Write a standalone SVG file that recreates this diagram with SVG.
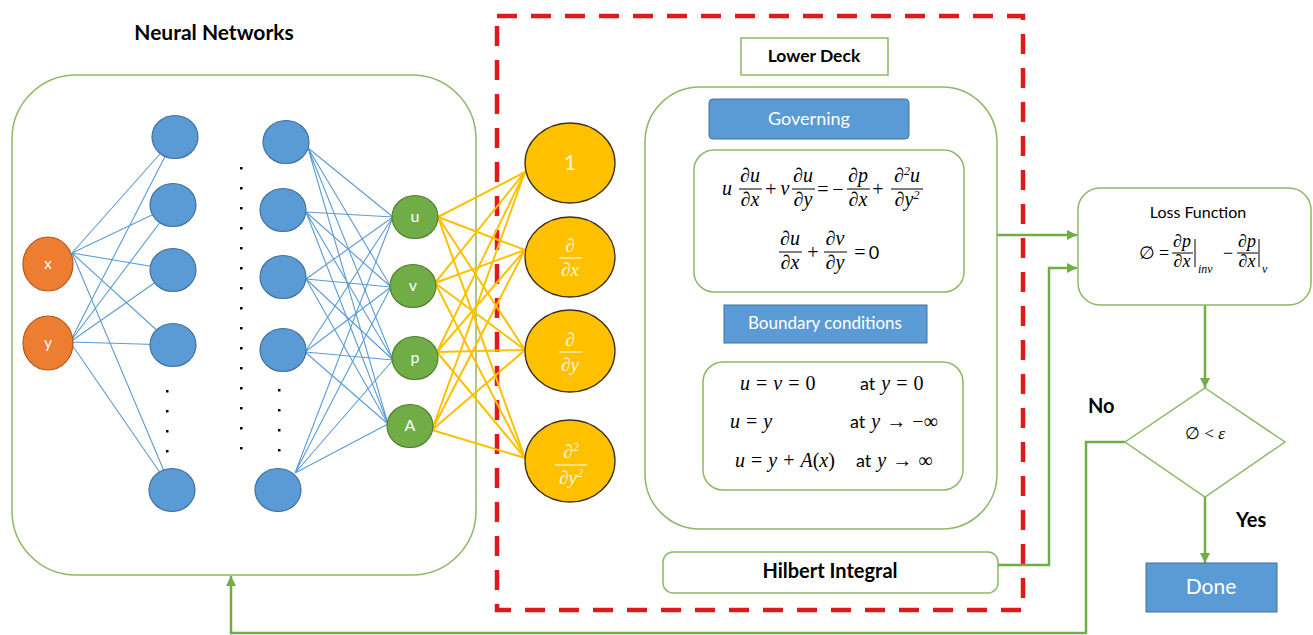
<svg xmlns="http://www.w3.org/2000/svg" width="1313" height="635" viewBox="0 0 1313 635">
<defs>
<style>
.sans{font-family:Lato,"Liberation Sans","DejaVu Sans",sans-serif}
.b{font-weight:bold}
.m{font-family:"Liberation Serif","DejaVu Serif",serif}
.i{font-style:italic}
.nn{stroke:#5B9BD5;stroke-width:1.1;fill:none}
.ye{stroke:#FFC000;stroke-width:2;fill:none}
.flow{stroke:#70AD47;stroke-width:2.5;fill:none}
.gbox{fill:#fff;stroke:#8DB866;stroke-width:1.5}
.blue{fill:#5B9BD5;stroke:#41719C;stroke-width:1.2}
.orange{fill:#ED7D31;stroke:#AE5A21;stroke-width:1.2}
.green{fill:#70AD47;stroke:#507E32;stroke-width:1.2}
.yel{fill:#FFC000;stroke:#3A3020;stroke-width:1.3}
.bar{stroke:#000;stroke-width:1}
.wbar{stroke:#FFF8E1;stroke-width:1.2}
.dot{fill:#000}
</style>
<marker id="ah" viewBox="0 0 10 10" refX="10" refY="5" markerWidth="10" markerHeight="10" markerUnits="userSpaceOnUse" orient="auto">
<path d="M0,0 L10,5 L0,10 z" fill="#70AD47"/>
</marker>
</defs>
<rect width="1313" height="635" fill="#fff"/>

<!-- Neural network container -->
<g id="nn-box">
<rect class="gbox" x="12" y="75" width="464" height="500" rx="64"/>
<text class="sans b" x="214" y="40" font-size="21" text-anchor="middle">Neural Networks</text>
</g>

<!-- Red dashed lower deck region -->
<g id="lower-deck-region">
<rect x="497" y="16" width="526" height="594" fill="none" stroke="#E0191B" stroke-width="4.5" stroke-dasharray="20 14"/>
</g>

<g id="connectors">
<!-- input to hidden 1 -->
<path class="nn" d="M72,253 L175,137 M72,253 L173,205 M72,253 L173,270 M72,253 L173,345 M72,253 L172,490"/>
<path class="nn" d="M70,342 L175,137 M70,342 L173,205 M70,342 L173,270 M70,342 L173,345 M70,342 L172,490"/>
<!-- hidden 2 to outputs -->
<path class="nn" d="M308,148 L393,217 M308,148 L391,287 M308,148 L393,360 M308,148 L388,424"/>
<path class="nn" d="M306,212 L393,217 M306,212 L391,287 M306,212 L393,360 M306,212 L388,424"/>
<path class="nn" d="M306,279 L393,217 M306,279 L391,287 M306,279 L393,360 M306,279 L388,424"/>
<path class="nn" d="M305,352 L393,217 M305,352 L391,287 M305,352 L393,360 M305,352 L388,424"/>
<path class="nn" d="M295,473 L393,217 M295,473 L391,287 M295,473 L393,360 M295,473 L388,424"/>
<!-- outputs to operators -->
<path class="ye" d="M438,217 L525,172 M438,217 L525,250 M438,217 L525,350 M438,217 L525,458"/>
<path class="ye" d="M435,283 L525,172 M435,283 L525,250 M435,283 L525,350 M435,283 L525,458"/>
<path class="ye" d="M437,352 L525,172 M437,352 L525,250 M437,352 L525,350 M437,352 L525,458"/>
<path class="ye" d="M432,430 L525,172 M432,430 L525,250 M432,430 L525,350 M432,430 L525,458"/>
<!-- flow arrows -->
<path class="flow" d="M997,235 H1077" marker-end="url(#ah)"/>
<path class="flow" d="M998,565 H1049 V268 H1077" marker-end="url(#ah)"/>
<path class="flow" d="M1205,305 V388" marker-end="url(#ah)"/>
<path class="flow" d="M1205,497 V563" marker-end="url(#ah)"/>
<path class="flow" d="M1125,442 H1086 V633 H231 V576" marker-end="url(#ah)"/>
</g>

<!-- inputs -->
<g id="in-x"><ellipse class="orange" cx="48" cy="264" rx="25" ry="27"/><text class="sans" x="48" y="269" font-size="15" fill="#fff" text-anchor="middle">x</text></g>
<g id="in-y"><ellipse class="orange" cx="48" cy="343" rx="25" ry="27"/><text class="sans" x="48" y="348" font-size="15" fill="#fff" text-anchor="middle">y</text></g>

<!-- hidden layer 1 -->
<g id="h1-1"><ellipse class="blue" cx="175" cy="137" rx="23" ry="21.5"/></g>
<g id="h1-2"><ellipse class="blue" cx="173" cy="205" rx="23" ry="21.5"/></g>
<g id="h1-3"><ellipse class="blue" cx="173" cy="270" rx="23" ry="21.5"/></g>
<g id="h1-4"><ellipse class="blue" cx="173" cy="345" rx="23" ry="21.5"/></g>
<g id="h1-5"><ellipse class="blue" cx="172" cy="490" rx="23" ry="21.5"/></g>
<!-- hidden layer 2 -->
<g id="h2-1"><ellipse class="blue" cx="286" cy="142" rx="23" ry="21.5"/></g>
<g id="h2-2"><ellipse class="blue" cx="283" cy="210" rx="23" ry="21.5"/></g>
<g id="h2-3"><ellipse class="blue" cx="283" cy="277" rx="23" ry="21.5"/></g>
<g id="h2-4"><ellipse class="blue" cx="283" cy="350" rx="23" ry="21.5"/></g>
<g id="h2-5"><ellipse class="blue" cx="278" cy="490" rx="23" ry="21.5"/></g>

<!-- dots -->
<g id="dots">
<rect class="dot" x="166" y="390" width="2.5" height="2.5"/><rect class="dot" x="166" y="410" width="2.5" height="2.5"/><rect class="dot" x="166" y="430" width="2.5" height="2.5"/><rect class="dot" x="166" y="450" width="2.5" height="2.5"/>
<rect class="dot" x="278" y="389" width="2.5" height="2.5"/><rect class="dot" x="278" y="409" width="2.5" height="2.5"/><rect class="dot" x="278" y="429" width="2.5" height="2.5"/><rect class="dot" x="278" y="449" width="2.5" height="2.5"/>
<rect class="dot" x="240" y="167" width="2.5" height="2.5"/><rect class="dot" x="240" y="187" width="2.5" height="2.5"/><rect class="dot" x="240" y="207" width="2.5" height="2.5"/><rect class="dot" x="240" y="227" width="2.5" height="2.5"/><rect class="dot" x="240" y="247" width="2.5" height="2.5"/><rect class="dot" x="240" y="267" width="2.5" height="2.5"/><rect class="dot" x="240" y="287" width="2.5" height="2.5"/><rect class="dot" x="240" y="307" width="2.5" height="2.5"/><rect class="dot" x="240" y="327" width="2.5" height="2.5"/><rect class="dot" x="240" y="347" width="2.5" height="2.5"/><rect class="dot" x="240" y="367" width="2.5" height="2.5"/><rect class="dot" x="240" y="387" width="2.5" height="2.5"/><rect class="dot" x="240" y="407" width="2.5" height="2.5"/><rect class="dot" x="240" y="427" width="2.5" height="2.5"/><rect class="dot" x="240" y="447" width="2.5" height="2.5"/>
</g>

<!-- outputs -->
<g id="out-u"><ellipse class="green" cx="415" cy="217" rx="23" ry="21.5"/><text class="sans" x="415" y="222" font-size="16" fill="#fff" text-anchor="middle">u</text></g>
<g id="out-v"><ellipse class="green" cx="413" cy="286" rx="23" ry="21.5"/><text class="sans" x="413" y="291" font-size="16" fill="#fff" text-anchor="middle">v</text></g>
<g id="out-p"><ellipse class="green" cx="415" cy="358" rx="23" ry="21.5"/><text class="sans" x="415" y="363" font-size="16" fill="#fff" text-anchor="middle">p</text></g>
<g id="out-A"><ellipse class="green" cx="410" cy="426" rx="23" ry="21.5"/><text class="sans" x="410" y="431" font-size="16" fill="#fff" text-anchor="middle">A</text></g>

<!-- operator nodes -->
<g id="op-1"><ellipse class="yel" cx="570" cy="163" rx="45" ry="40"/><text class="sans" x="570" y="170" font-size="21" fill="#FFF8E1" text-anchor="middle">1</text></g>
<g id="op-dx"><ellipse class="yel" cx="570" cy="257" rx="45" ry="40"/>
<text class="m i" x="570" y="252" font-size="19" fill="#FFF8E1" text-anchor="middle">∂</text>
<line class="wbar" x1="559" y1="258" x2="582" y2="258"/>
<text class="m i" x="570" y="276" font-size="19" fill="#FFF8E1" text-anchor="middle">∂x</text></g>
<g id="op-dy"><ellipse class="yel" cx="570" cy="351" rx="45" ry="41"/>
<text class="m i" x="570" y="346" font-size="19" fill="#FFF8E1" text-anchor="middle">∂</text>
<line class="wbar" x1="559" y1="352" x2="582" y2="352"/>
<text class="m i" x="570" y="371" font-size="19" fill="#FFF8E1" text-anchor="middle">∂y</text></g>
<g id="op-dyy"><ellipse class="yel" cx="570" cy="461" rx="45" ry="41"/>
<text class="m i" x="571" y="458" font-size="19" fill="#FFF8E1" text-anchor="middle">∂<tspan font-size="12" dy="-7">2</tspan></text>
<line class="wbar" x1="555" y1="465" x2="587" y2="465"/>
<text class="m i" x="571" y="484" font-size="19" fill="#FFF8E1" text-anchor="middle">∂y<tspan font-size="12" dy="-7">2</tspan></text></g>

<!-- Lower deck label -->
<g id="lower-deck">
<rect x="741" y="38" width="147" height="37" fill="#fff" stroke="#8DB866" stroke-width="1.5"/>
<text class="sans b" x="814" y="62" font-size="17.5" text-anchor="middle">Lower Deck</text>
</g>

<!-- Lower deck container -->
<g id="deck-box">
<rect class="gbox" x="645" y="87" width="352" height="442" rx="55"/>
</g>

<g id="governing">
<rect x="709" y="99" width="200" height="40" rx="4" fill="#5B9BD5" stroke="#41719C" stroke-width="1"/>
<text class="sans" x="809" y="125" font-size="18" fill="#fff" text-anchor="middle">Governing</text>
</g>

<g id="governing-eq">
<rect class="gbox" x="694" y="150" width="270" height="142" rx="20"/>
<g class="m" font-size="20">
<text class="i" x="727" y="195" text-anchor="middle">u</text>
<text class="i" x="750" y="182" text-anchor="middle">∂u</text><line class="bar" x1="739" y1="189" x2="762" y2="189"/><text class="i" x="750" y="206" text-anchor="middle">∂x</text>
<text x="771" y="196" text-anchor="middle">+</text>
<text class="i" x="785" y="195" text-anchor="middle">v</text>
<text class="i" x="803" y="182" text-anchor="middle">∂u</text><line class="bar" x1="792" y1="189" x2="815" y2="189"/><text class="i" x="803" y="206" text-anchor="middle">∂y</text>
<text x="823" y="196" text-anchor="middle">=</text>
<text x="838" y="196" text-anchor="middle">−</text>
<text class="i" x="858" y="182" text-anchor="middle">∂p</text><line class="bar" x1="847" y1="189" x2="870" y2="189"/><text class="i" x="858" y="206" text-anchor="middle">∂x</text>
<text x="878" y="196" text-anchor="middle">+</text>
<text class="i" x="907" y="182" text-anchor="middle">∂<tspan font-size="12" dy="-7">2</tspan><tspan dy="7">u</tspan></text><line class="bar" x1="891" y1="189" x2="923" y2="189"/><text class="i" x="907" y="206" text-anchor="middle">∂y<tspan font-size="12" dy="-7">2</tspan></text>
<text class="i" x="790" y="245" text-anchor="middle">∂u</text><line class="bar" x1="779" y1="252" x2="802" y2="252"/><text class="i" x="790" y="269" text-anchor="middle">∂x</text>
<text x="813" y="259" text-anchor="middle">+</text>
<text class="i" x="835" y="245" text-anchor="middle">∂v</text><line class="bar" x1="824" y1="252" x2="847" y2="252"/><text class="i" x="835" y="269" text-anchor="middle">∂y</text>
<text x="860" y="259" text-anchor="middle">=</text>
<text class="sans" x="874" y="259" text-anchor="middle" font-size="18">0</text>
</g>
</g>

<g id="boundary">
<rect x="724" y="305" width="203" height="38" fill="#5B9BD5" stroke="#41719C" stroke-width="1"/>
<text class="sans" x="825" y="329" font-size="17" fill="#fff" text-anchor="middle">Boundary conditions</text>
</g>

<g id="boundary-eq">
<rect class="gbox" x="703" y="362" width="260" height="128" rx="20"/>
<g class="m" font-size="20" word-spacing="1">
<text x="740" y="390"><tspan class="i">u</tspan> = <tspan class="i">v</tspan> = 0</text>
<text x="860" y="390"><tspan class="sans" font-size="18">at</tspan> <tspan class="i">y</tspan> = 0</text>
<text x="730" y="428"><tspan class="i">u</tspan> = <tspan class="i">y</tspan></text>
<text x="850" y="428"><tspan class="sans" font-size="18">at</tspan> <tspan class="i">y</tspan> → −∞</text>
<text x="735" y="467"><tspan class="i">u</tspan> = <tspan class="i">y</tspan> + <tspan class="i">A</tspan>(<tspan class="i">x</tspan>)</text>
<text x="856" y="467"><tspan class="sans" font-size="18">at</tspan> <tspan class="i">y</tspan> → ∞</text>
</g>
</g>

<g id="hilbert">
<rect class="gbox" x="663" y="552" width="335" height="41" rx="10"/>
<text class="sans b" x="830" y="578" font-size="20" text-anchor="middle">Hilbert Integral</text>
</g>

<g id="loss">
<rect class="gbox" x="1078" y="188" width="233" height="117" rx="22"/>
<text class="sans" x="1198" y="218" font-size="16" text-anchor="middle">Loss Function</text>
<g class="m" font-size="18">
<text x="1147" y="259" text-anchor="middle">∅</text>
<text x="1164" y="259" text-anchor="middle">=</text>
<text class="i" x="1182" y="247" text-anchor="middle">∂p</text><line class="bar" x1="1172" y1="253" x2="1193" y2="253"/><text class="i" x="1182" y="267" text-anchor="middle">∂x</text>
<line class="bar" x1="1195" y1="239" x2="1195" y2="267"/>
<text class="i" x="1198" y="273" font-size="12">inv</text>
<text x="1228" y="259" text-anchor="middle">−</text>
<text class="i" x="1247" y="247" text-anchor="middle">∂p</text><line class="bar" x1="1237" y1="253" x2="1258" y2="253"/><text class="i" x="1247" y="267" text-anchor="middle">∂x</text>
<line class="bar" x1="1259" y1="239" x2="1259" y2="267"/>
<text class="i" x="1262" y="273" font-size="12">v</text>
</g>
</g>

<g id="decision">
<path d="M1205,388 L1285,442 L1205,497 L1125,442 Z" fill="#fff" stroke="#8DB866" stroke-width="1.5"/>
<text class="m" x="1205" y="439" font-size="17" text-anchor="middle">∅ &lt; <tspan class="i">ε</tspan></text>
</g>

<g id="labels">
<text class="sans b" x="1088" y="413" font-size="20">No</text>
<text class="sans b" x="1236" y="527" font-size="20">Yes</text>
</g>

<g id="done">
<rect x="1146" y="563" width="131" height="49" fill="#5B9BD5" stroke="#41719C" stroke-width="1"/>
<text class="sans" x="1211" y="594" font-size="21" fill="#fff" text-anchor="middle">Done</text>
</g>
</svg>
